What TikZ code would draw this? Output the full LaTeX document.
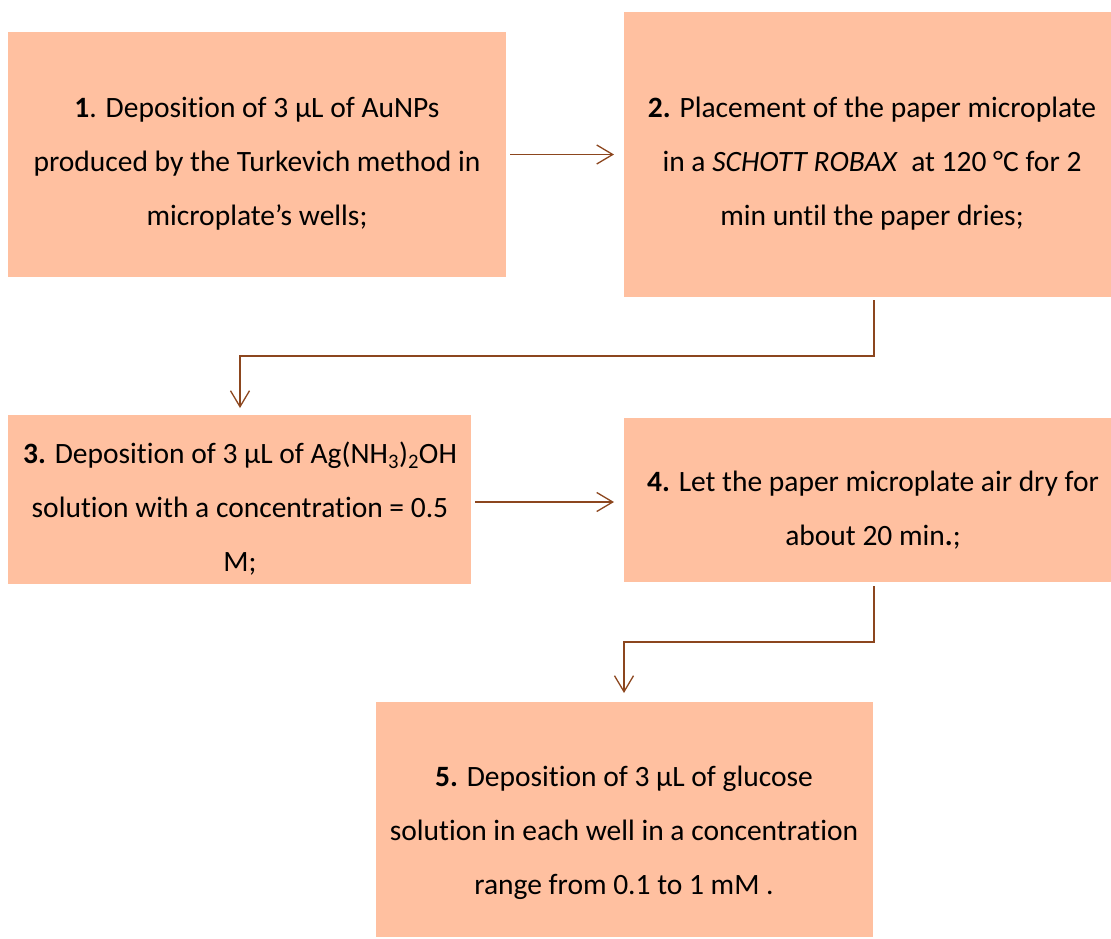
\documentclass[tikz,border=0pt]{standalone}
\usepackage{fontspec}
\setmainfont[Ligatures=NoCommon]{Carlito}
\usetikzlibrary{arrows.meta,calc}
\definecolor{boxfill}{RGB}{255,192,160}
\definecolor{arrowc}{RGB}{140,70,30}
\begin{document}
\begin{tikzpicture}[x=1pt,y=-1pt,
  stepbox/.style={fill=boxfill,draw=none,inner sep=0,outer sep=0},
  steptext/.style={align=center,inner sep=0,font=\fontsize{29.5}{54}\selectfont},
  conn/.style={draw=arrowc,line width=1.3pt,-{Straight Barb[length=16pt,width=19pt,line width=1.3pt]}}]
\useasboundingbox (0,0) rectangle (1111,938);
% boxes
\node[stepbox,minimum width=498pt,minimum height=245pt] (b1) at (257,154.5) {};
\node[stepbox,minimum width=487pt,minimum height=285pt] (b2) at (867.5,154.5) {};
\node[stepbox,minimum width=463pt,minimum height=169pt] (b3) at (239.5,499.5) {};
\node[stepbox,minimum width=487pt,minimum height=164pt] (b4) at (867.5,500) {};
\node[stepbox,minimum width=497pt,minimum height=235pt] (b5) at (624.5,819.5) {};
% texts
\node[steptext] (t1) at (257,164) {\textbf{1}. Deposition of 3 µL of AuNPs\\produced by the Turkevich method in\\microplate’s wells;};
\node[steptext] (t2) at (872,164) {\textbf{2.} Placement of the paper microplate\\in a \textit{SCHOTT ROBAX}\ \ at 120 °C for 2\\min until the paper dries;};
\node[steptext] (t3) at (240,509) {\textbf{3.} Deposition of 3 µL of Ag(NH\textsubscript{3})\textsubscript{2}OH\\solution with a concentration = 0.5\\M;};
\node[steptext] (t4) at (873,510) {\textbf{4.} Let the paper microplate air dry for\\about 20 min\textbf{.};};
\node[steptext] (t5) at (624,833) {\textbf{5.} Deposition of 3 µL of glucose\\solution in each well in a concentration\\range from 0.1 to 1 mM .};
% connectors
\coordinate (c2) at (874,300);
\coordinate (c3) at (240,408);
\coordinate (c4) at (874,586);
\coordinate (c5) at (624,693);
\draw[conn] ($(b1.east)+(4,0)$) -- ($(b2.west)+(-10,0)$);
\draw[conn] (c2) |- (240,356) -- (c3);
\draw[conn] ($(b3.east)+(4,2.5)$) -- ($(b4.west)+(-10,2)$);
\draw[conn] (c4) |- (624,642) -- (c5);
\end{tikzpicture}
\end{document}
